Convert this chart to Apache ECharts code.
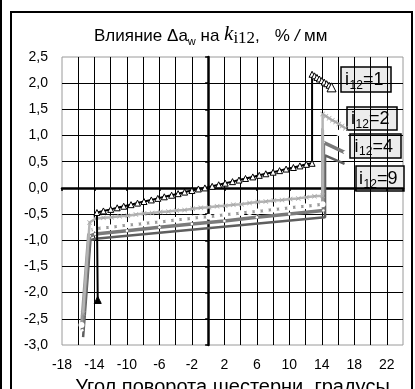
<!DOCTYPE html>
<html>
<head>
<meta charset="utf-8">
<script src="https://cdn.jsdelivr.net/npm/echarts@6/dist/echarts.min.js"></script>
<style>
  html, body { margin: 0; padding: 0; background: #fff; }
  #chart { width: 415px; height: 389px; }
</style>
</head>
<body>
<div id="chart"></div>
<script>
// Axis ranges and ticks
const xMin = -18, xMax = 24, xStep = 2, xLabelStep = 4;
const yMin = -3.0, yMax = 2.5, yStep = 0.5;

// i12 = 1 (black, triangle markers)
const ang1 = [-13.6, -13.7, -12.9, -12.0, -11.2, -10.4, -9.5, -8.7, -7.9, -7.0, -6.2, -5.4, -4.5, -3.7, -2.9, -2.0, -1.2, -0.4, 0.5, 1.3, 2.1, 3.0, 3.8, 4.6, 5.5, 6.3, 7.1, 8.0, 8.8, 9.6, 10.5, 11.3, 12.1, 12.8, 12.8, 13.1, 13.4, 13.7, 14.0, 14.3, 14.6, 14.9, 15.2];
const k1   = [-2.14, -0.47, -0.44, -0.41, -0.38, -0.35, -0.32, -0.29, -0.26, -0.23, -0.20, -0.17, -0.14, -0.11, -0.08, -0.05, -0.02, 0.00, 0.03, 0.06, 0.09, 0.12, 0.15, 0.18, 0.21, 0.24, 0.27, 0.30, 0.33, 0.36, 0.39, 0.42, 0.45, 0.47, 2.17, 2.14, 2.11, 2.08, 2.05, 2.02, 1.99, 1.96, 1.92];

// i12 = 2 (light grey, cross markers)
const ang2a = [-15.4, -14.6, -13.9, -12.9, -11.9, -10.9, -9.9, -8.9, -7.9, -6.9, -5.9, -4.9, -3.9, -2.9, -1.9, -0.9, 0.1, 1.1, 2.1, 3.1, 4.1, 5.1, 6.1, 7.1, 8.1, 9.1, 10.1, 11.1, 12.1, 13.1, 14.1, 14.1, 14.5, 14.9, 15.3, 15.7, 16.1, 16.5, 16.9];
const k2a   = [-2.40, -0.66, -0.59, -0.57, -0.56, -0.54, -0.53, -0.51, -0.49, -0.48, -0.46, -0.45, -0.43, -0.42, -0.40, -0.38, -0.37, -0.35, -0.34, -0.32, -0.31, -0.29, -0.27, -0.26, -0.24, -0.23, -0.21, -0.20, -0.18, -0.16, -0.15, 1.41, 1.37, 1.33, 1.29, 1.26, 1.22, 1.18, 1.14];

// second grey trace beside i12 = 2 (circle markers)
const ang2b = [-15.6, -14.7, -13.9, -12.9, -11.9, -10.9, -9.9, -8.9, -7.9, -6.9, -5.9, -4.9, -3.9, -2.9, -1.9, -0.9, 0.1, 1.1, 2.1, 3.1, 4.1, 5.1, 6.1, 7.1, 8.1, 9.1, 10.1, 11.1, 12.1, 13.1, 14.1, 14.1, 14.5, 14.9, 15.3, 15.7, 16.1, 16.5, 16.9];
const k2b   = [-2.62, -0.82, -0.78, -0.76, -0.75, -0.73, -0.71, -0.70, -0.68, -0.66, -0.65, -0.63, -0.61, -0.60, -0.58, -0.56, -0.55, -0.53, -0.51, -0.50, -0.48, -0.46, -0.45, -0.43, -0.41, -0.40, -0.38, -0.36, -0.35, -0.33, -0.31, 1.19, 1.16, 1.14, 1.11, 1.08, 1.05, 1.03, 1.00];

// i12 = 4 (dark grey)
const ang4 = [-15.5, -14.6, -13.9, -10.0, -6.0, -2.0, 2.0, 6.0, 10.0, 14.2, 14.2, 16.8];
const k4   = [-2.72, -0.92, -0.88, -0.82, -0.75, -0.69, -0.63, -0.56, -0.50, -0.43, 0.87, 0.68];

// i12 = 9 (darkest grey)
const ang9 = [-15.4, -14.5, -13.9, 14.4, 14.4, 16.8];
const k9   = [-2.85, -1.00, -0.97, -0.56, 0.62, 0.46];

// Callout captions
const captions = [
  { n: '1', x: 341, y: 67, w: 50, h: 25 },
  { n: '2', x: 347, y: 107, w: 50, h: 23 },
  { n: '4', x: 350, y: 134, w: 51, h: 24 },
  { n: '9', x: 356, y: 166, w: 48, h: 25 }
];

const zip = (a, b) => a.map((v, i) => [v, b[i]]);
const fmt = v => v.toFixed(1).replace('.', ',');
const FONT = 'Liberation Sans, Arial, sans-serif';

const crossPath = 'path://M0,1L1,0L5,4L9,0L10,1L6,5L10,9L9,10L5,6L1,10L0,9L4,5Z';

const data1 = zip(ang1, k1).map((p, i) => {
  if (i === 0) return { value: p, symbolSize: 7, itemStyle: { color: '#000' } };
  if (i === ang1.length - 1) return { value: p, symbolSize: 9 };
  return p;
});

function captionGroup(c) {
  const x0 = (c.w - 42) / 2;
  const mid = c.h / 2 + 1;
  const t = (text, x, y, size) => ({
    type: 'text', x: x, y: y,
    style: { text: text, fontFamily: FONT, fontSize: size, fill: '#000', align: 'left', verticalAlign: 'middle' }
  });
  return {
    type: 'group', x: c.x, y: c.y, silent: true, z: 10,
    children: [
      { type: 'rect', shape: { x: 0, y: 0, width: c.w, height: c.h }, style: { fill: '#ececec', stroke: '#000', lineWidth: 1.5 } },
      t('i', x0, mid, 18),
      t('12', x0 + 4.5, mid + 5, 12),
      t('=' + c.n, x0 + 18, mid, 18)
    ]
  };
}

const chart = echarts.init(document.getElementById('chart'), null, { renderer: 'canvas' });

chart.setOption({
  animation: false,
  backgroundColor: '#fff',
  grid: {
    left: 62, right: 12, top: 57, bottom: 44,
    containLabel: false, outerBoundsMode: 'none',
    show: true, borderColor: '#9a9a9a', borderWidth: 1, backgroundColor: 'transparent'
  },
  xAxis: [
    {
      type: 'value', min: xMin, max: xMax, interval: xStep,
      axisLine: { show: false, onZero: false },
      axisTick: { show: false },
      axisLabel: {
        color: '#000', fontSize: 14, fontFamily: FONT, margin: 13, hideOverlap: false,
        showMinLabel: true, showMaxLabel: false,
        formatter: v => ((Math.round(v - xMin) % xLabelStep === 0 && v < xMax) ? String(v) : '')
      },
      splitLine: { show: true, showMinLine: false, showMaxLine: false, lineStyle: { color: '#000', width: 1 } },
      name: 'Угол поворота шестерни, градусы',
      nameLocation: 'middle', nameGap: 32,
      nameTextStyle: { color: '#000', fontSize: 20, fontFamily: FONT }
    },
    {
      type: 'value', min: xMin, max: xMax, interval: xLabelStep, position: 'bottom',
      axisLine: { show: true, onZero: true, lineStyle: { color: '#000', width: 2.5 } },
      axisTick: { show: true, length: 3, lineStyle: { color: '#000', width: 1.5 } },
      axisLabel: { show: false },
      splitLine: { show: false }
    }
  ],
  yAxis: [
    {
      type: 'value', min: yMin, max: yMax, interval: yStep, position: 'left',
      axisLine: { show: false, onZero: false },
      axisTick: { show: false },
      axisLabel: { color: '#000', fontSize: 14, fontFamily: FONT, margin: 14, formatter: fmt },
      splitLine: { show: true, showMinLine: false, showMaxLine: false, lineStyle: { color: '#000', width: 1 } }
    },
    {
      type: 'value', min: yMin, max: yMax, interval: yStep, position: 'left',
      axisLine: { show: true, onZero: true, lineStyle: { color: '#000', width: 2.5 } },
      axisTick: { show: true, length: 3, lineStyle: { color: '#000', width: 1.5 } },
      axisLabel: { show: false },
      splitLine: { show: false }
    }
  ],
  series: [
    {
      name: 'i12=9', type: 'line', xAxisIndex: 0, yAxisIndex: 0,
      data: zip(ang9, k9), showSymbol: false, symbol: 'none',
      lineStyle: { color: '#5e5e5e', width: 2.5 }, z: 3
    },
    {
      name: 'i12=4', type: 'line', xAxisIndex: 0, yAxisIndex: 0,
      data: zip(ang4, k4), symbol: 'circle', symbolSize: 2.5,
      itemStyle: { color: '#fff', borderColor: '#fff', borderWidth: 0 },
      lineStyle: { color: '#7a7a7a', width: 3.5 }, z: 4
    },
    {
      name: 'i12=2b', type: 'line', xAxisIndex: 0, yAxisIndex: 0,
      data: zip(ang2b, k2b), symbol: 'emptyCircle', symbolSize: 4,
      itemStyle: { color: '#fff', borderColor: '#9a9a9a', borderWidth: 1 },
      lineStyle: { color: '#9a9a9a', width: 3 }, z: 5
    },
    {
      name: 'i12=2', type: 'line', xAxisIndex: 0, yAxisIndex: 0,
      data: zip(ang2a, k2a), symbol: crossPath, symbolSize: 5,
      itemStyle: { color: '#a8a8a8' },
      lineStyle: { color: '#b4b4b4', width: 2.5 }, z: 6
    },
    {
      name: 'i12=1', type: 'line', xAxisIndex: 0, yAxisIndex: 0,
      data: data1, symbol: 'triangle', symbolSize: 6,
      itemStyle: { color: '#fff', borderColor: '#000', borderWidth: 1 },
      lineStyle: { color: '#000', width: 2 }, z: 7
    }
  ],
  graphic: [
    // outer frame
    { type: 'rect', shape: { x: 11, y: 12, width: 401, height: 390 }, style: { fill: 'none', stroke: '#000', lineWidth: 2 }, silent: true, z: -1 },
    { type: 'line', shape: { x1: 1, y1: 0, x2: 1, y2: 389 }, style: { stroke: '#000', lineWidth: 2 }, silent: true },
    // title
    {
      type: 'text', left: 94, top: 24, silent: true,
      style: {
        text: '{n|Влияние Δa}{s|w}{n| на }{k|k}{ks|i12}{n|,}{sp| }{n|%}{it| / }{n|мм}',
        rich: {
          n: { fontFamily: FONT, fontSize: 17, color: '#000', lineHeight: 20, verticalAlign: 'bottom', padding: [0, 0, 2, 0] },
          s: { fontFamily: FONT, fontSize: 11, color: '#000', lineHeight: 12, verticalAlign: 'bottom' },
          k: { fontFamily: 'Liberation Serif, serif', fontStyle: 'italic', fontSize: 21, color: '#000', lineHeight: 20, verticalAlign: 'bottom', padding: [0, 0, 2, 0] },
          ks: { fontFamily: 'Liberation Serif, serif', fontSize: 17, color: '#000', lineHeight: 16, verticalAlign: 'bottom' },
          sp: { fontFamily: FONT, fontSize: 17, width: 15, lineHeight: 20, verticalAlign: 'bottom', padding: [0, 0, 2, 0] },
          it: { fontFamily: FONT, fontStyle: 'italic', fontSize: 17, color: '#000', lineHeight: 20, verticalAlign: 'bottom', padding: [0, 0, 2, 0] }
        }
      }
    }
  ].concat(captions.map(captionGroup))
});
</script>
</body>
</html>
